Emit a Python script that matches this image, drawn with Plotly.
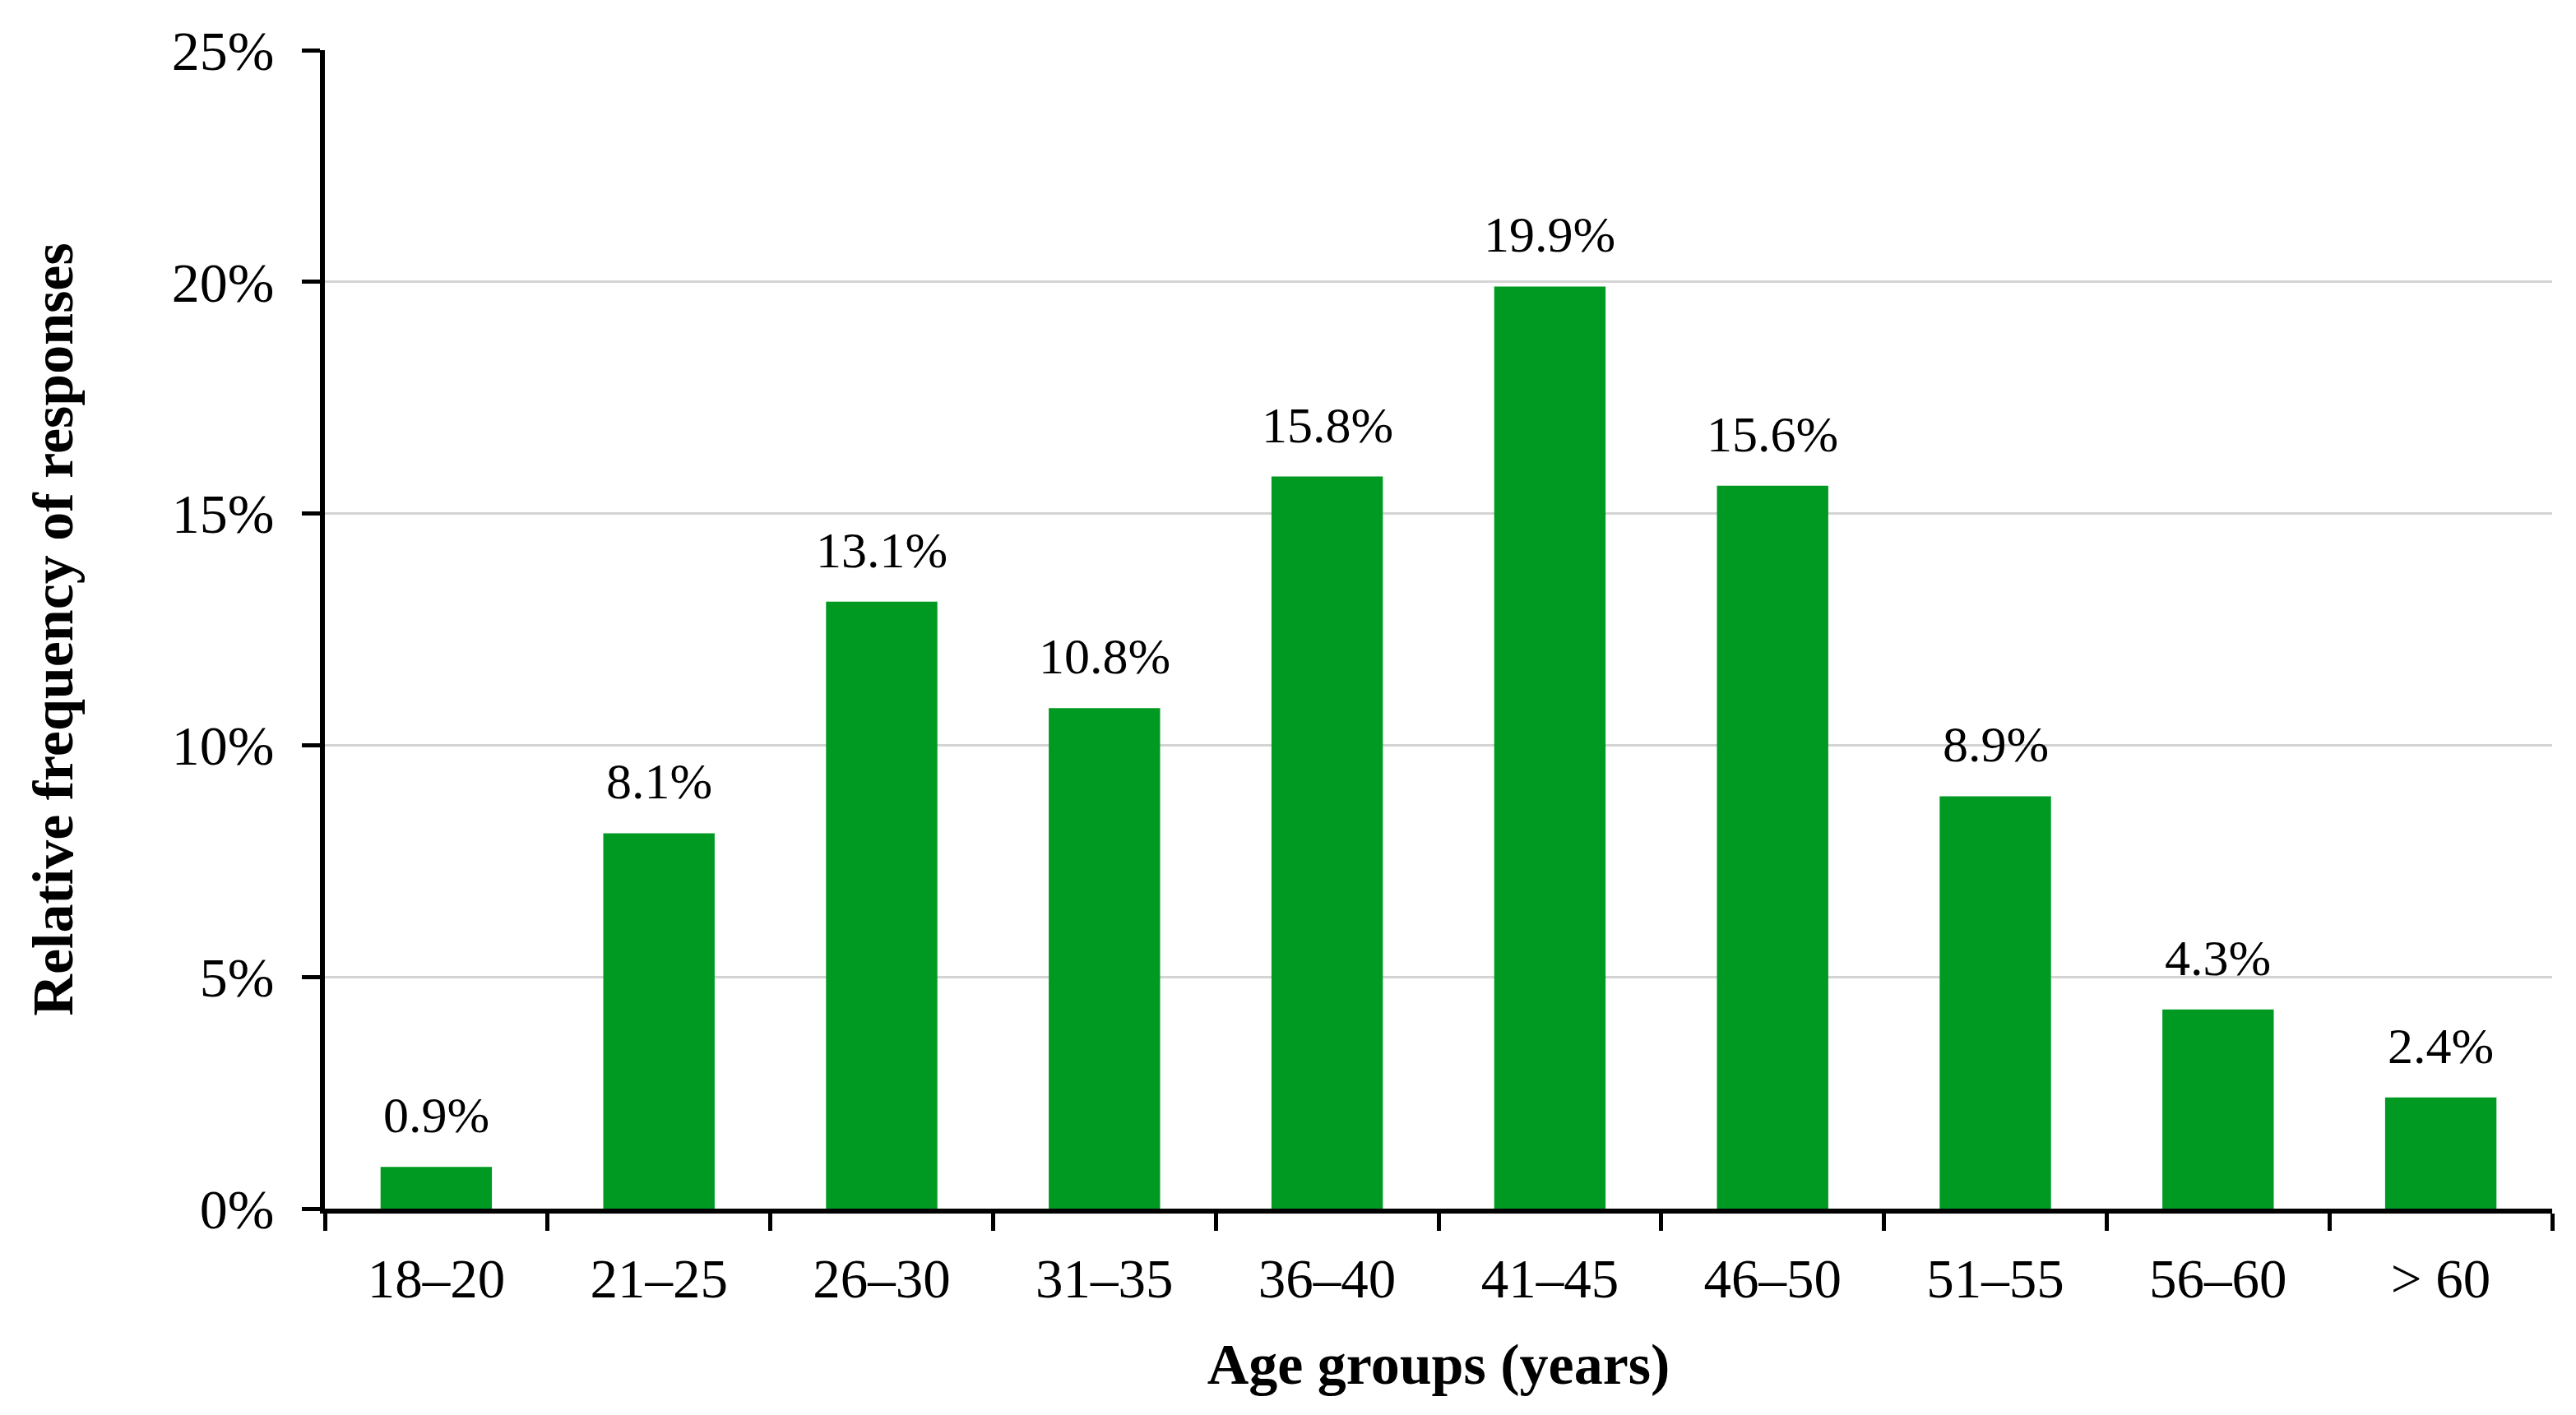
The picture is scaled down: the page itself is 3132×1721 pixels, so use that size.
import plotly.graph_objects as go

categories = ["18–20", "21–25", "26–30", "31–35", "36–40", "41–45", "46–50", "51–55", "56–60", "> 60"]
values = [0.9, 8.1, 13.1, 10.8, 15.8, 19.9, 15.6, 8.9, 4.3, 2.4]
y_ticks = [0, 5, 10, 15, 20, 25]
y_tick_labels = ["0%", "5%", "10%", "15%", "20%", "25%"]

FONT = "Liberation Serif"
BAR_COLOR = "#009A22"

fig = go.Figure()
fig.add_trace(go.Bar(
    x=categories, y=values,
    marker=dict(color=BAR_COLOR, line=dict(width=0)),
    hoverinfo="skip",
))

for c, v in zip(categories, values):
    fig.add_annotation(
        x=c, y=v, text=f"{v:.1f}%", showarrow=False,
        yanchor="bottom", yshift=27,
        font=dict(family=FONT, size=62, color="black"),
    )

fig.update_layout(
    width=3132, height=1721,
    margin=dict(l=395, r=29, t=61, b=251),
    paper_bgcolor="white", plot_bgcolor="white",
    bargap=0.5, showlegend=False,
    font=dict(family=FONT, color="black"),
)
fig.update_xaxes(
    type="category",
    showline=True, linecolor="black", linewidth=6,
    ticks="outside", tickson="boundaries", ticklen=21, tickwidth=5, tickcolor="black",
    tickfont=dict(family=FONT, size=67, color="black"),
    ticklabelstandoff=22,
    title=dict(text="<b>Age groups (years)</b>", font=dict(family=FONT, size=70, color="black"), standoff=45),
    showgrid=False, zeroline=False,
)
fig.update_yaxes(
    range=[0, 25],
    tickvals=y_ticks, ticktext=y_tick_labels,
    showline=True, linecolor="black", linewidth=6,
    ticks="outside", ticklen=22, tickwidth=5, tickcolor="black",
    tickfont=dict(family=FONT, size=68, color="black"),
    ticklabelstandoff=20,
    showgrid=True, gridcolor="#d4d4d4", gridwidth=3,
    zeroline=False,
    title=dict(text="<b>Relative frequency of responses</b>", font=dict(family=FONT, size=70, color="black"), standoff=99),
)

fig.write_html(
    "out.html",
    config={"displayModeBar": False},
    post_script="document.body.style.margin='0';document.body.style.overflow='hidden';",
)
